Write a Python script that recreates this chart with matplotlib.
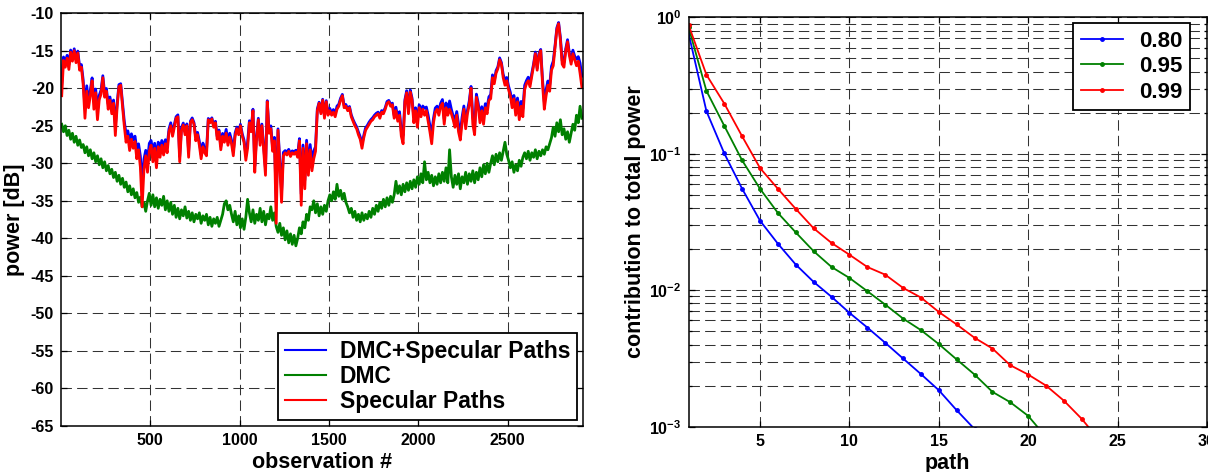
import numpy as np
import matplotlib
matplotlib.use("Agg")
import matplotlib.pyplot as plt
from matplotlib.ticker import FixedLocator, LogLocator, NullFormatter

plt.rcParams['font.family'] = ['Liberation Sans', 'DejaVu Sans']
plt.rcParams['font.weight'] = 'bold'
plt.rcParams['axes.unicode_minus'] = False
plt.rcParams['mathtext.fontset'] = 'custom'
plt.rcParams['mathtext.rm'] = 'Liberation Sans:bold'
plt.rcParams['mathtext.bf'] = 'Liberation Sans:bold'

# ---- left panel: power per observation (one value every 10 observations) ----
OBS_START = 5
OBS_STEP = 10

specular_db = [
    -21.0, -16.3, -17.2, -16.0, -17.5, -15.2, -16.4, -15.0, -16.6, -15.3, -17.6, -17.2, -19.5, -24.0, -20.4, -22.6, -21.0, -19.0, -22.8, -20.6,
    -24.2, -21.5, -20.8, -18.6, -21.2, -20.4, -22.8, -21.6, -23.4, -22.0, -26.3, -22.5, -19.8, -19.6, -22.4, -25.0, -27.2, -26.4, -28.3, -26.8,
    -28.0, -27.1, -29.4, -28.2, -30.5, -35.8, -30.8, -29.0, -31.2, -28.4, -27.6, -29.8, -28.0, -30.6, -27.8, -29.2, -27.6, -28.9, -27.4, -28.6,
    -25.8, -25.0, -26.4, -25.2, -24.0, -23.8, -29.8, -25.6, -24.9, -26.2, -25.0, -29.2, -24.6, -24.2, -24.8, -27.0, -26.2, -27.6, -29.4, -27.8,
    -28.6, -29.0, -24.2, -24.6, -24.1, -25.2, -24.6, -26.8, -25.8, -28.2, -26.4, -27.2, -26.0, -27.6, -26.5, -27.4, -29.0, -26.4, -25.4, -26.2,
    -25.0, -26.4, -27.2, -29.6, -28.0, -24.6, -25.8, -23.0, -31.2, -26.8, -24.2, -27.6, -25.0, -28.4, -31.6, -21.8, -26.0, -25.4, -28.4, -27.0,
    -38.0, -25.6, -30.4, -35.2, -29.0, -28.6, -28.9, -28.4, -29.1, -28.6, -28.8, -28.5, -29.2, -27.0, -35.6, -28.0, -33.4, -27.4, -31.6, -28.2,
    -31.0, -29.4, -28.4, -23.0, -22.0, -23.4, -21.6, -24.0, -21.8, -23.6, -23.0, -23.6, -23.2, -23.8, -22.8, -22.4, -21.6, -21.0, -22.6, -22.4,
    -23.0, -22.6, -23.8, -24.4, -25.0, -25.4, -26.2, -26.8, -28.0, -26.6, -25.6, -25.2, -24.8, -24.4, -24.2, -23.8, -23.6, -23.4, -24.0, -23.2,
    -23.4, -22.8, -22.0, -21.8, -22.4, -22.2, -24.0, -23.0, -24.4, -23.6, -26.4, -27.4, -21.8, -20.6, -23.4, -20.5, -21.6, -24.6, -23.0, -25.2,
    -22.6, -23.8, -22.8, -23.6, -23.0, -24.4, -25.8, -27.4, -24.6, -23.2, -22.8, -23.6, -22.4, -22.0, -24.8, -22.6, -23.6, -22.8, -23.4, -24.2,
    -25.2, -23.6, -25.8, -26.9, -24.6, -22.8, -25.4, -23.4, -22.2, -20.0, -24.8, -26.2, -21.2, -22.4, -24.6, -23.0, -24.8, -22.6, -23.4, -21.6,
    -21.4, -18.6, -19.4, -18.0, -17.4, -16.2, -16.8, -18.6, -19.6, -19.0, -20.2, -21.0, -22.6, -21.4, -23.6, -21.8, -24.2, -22.4, -23.8, -20.2,
    -19.4, -19.0, -19.8, -18.4, -17.0, -15.4, -17.6, -15.6, -15.0, -19.4, -22.8, -21.0, -19.6, -20.4, -17.6, -17.0, -14.6, -12.2, -11.4, -13.6,
    -16.8, -17.2, -15.0, -13.8, -15.6, -16.8, -15.4, -16.2, -17.0, -16.4, -18.0, -19.8,
]

dmc_db = [
    -24.8, -25.8, -25.0, -26.3, -25.6, -26.8, -26.0, -27.2, -26.4, -27.6, -26.9, -27.9, -27.5, -28.6, -27.8, -29.0, -28.2, -29.4, -28.6, -29.8,
    -29.0, -30.2, -29.4, -30.6, -29.8, -31.0, -30.3, -31.4, -30.8, -31.9, -31.2, -32.4, -31.6, -32.8, -32.0, -33.2, -32.5, -33.8, -33.0, -34.2,
    -33.4, -34.6, -33.9, -35.2, -34.5, -35.8, -35.2, -36.4, -35.0, -34.0, -35.6, -34.2, -35.8, -34.6, -36.0, -34.8, -35.6, -34.4, -36.2, -35.0,
    -36.4, -35.2, -36.8, -35.6, -37.2, -36.0, -37.4, -36.2, -37.0, -35.8, -37.3, -36.4, -37.6, -36.6, -37.8, -36.8, -37.4, -36.6, -38.0, -37.0,
    -37.6, -36.8, -38.2, -37.2, -38.4, -37.4, -38.0, -37.2, -38.4, -37.6, -36.8, -35.4, -35.0, -36.2, -35.6, -36.8, -37.8, -36.4, -38.2, -37.0,
    -38.6, -37.4, -38.8, -37.2, -34.8, -36.6, -37.8, -36.2, -38.0, -36.8, -37.6, -36.0, -37.8, -36.4, -38.2, -36.8, -37.4, -35.8, -37.6, -36.6,
    -38.4, -39.2, -38.0, -39.6, -38.6, -40.2, -39.0, -40.6, -39.4, -40.8, -39.6, -41.0, -40.0, -38.6, -39.4, -37.8, -38.6, -36.8, -37.6, -35.8,
    -36.2, -35.0, -36.6, -35.4, -37.0, -35.8, -36.8, -35.6, -36.4, -35.0, -34.2, -35.0, -33.8, -34.8, -32.8, -34.4, -33.6, -34.8, -34.0, -35.2,
    -35.8, -36.6, -36.0, -37.2, -36.4, -37.6, -36.8, -37.8, -36.6, -37.6, -36.8, -37.4, -36.4, -37.2, -36.0, -36.8, -35.6, -36.4, -35.2, -36.0,
    -34.8, -35.8, -34.6, -35.6, -34.4, -35.2, -34.2, -32.4, -34.0, -33.0, -34.2, -32.8, -33.8, -32.6, -33.6, -32.4, -33.4, -32.2, -33.2, -31.8,
    -32.8, -31.4, -32.6, -29.8, -32.2, -31.2, -32.6, -31.6, -33.0, -31.8, -32.8, -31.4, -32.6, -31.2, -32.4, -30.6, -32.6, -28.2, -31.8, -33.2,
    -31.6, -32.8, -31.4, -33.4, -31.8, -32.6, -31.2, -32.8, -31.4, -32.4, -31.0, -32.6, -31.2, -32.2, -30.6, -31.8, -30.2, -31.4, -30.0, -31.2,
    -30.0, -29.0, -30.2, -28.8, -29.8, -28.6, -29.6, -28.4, -27.2, -28.8, -29.6, -30.6, -29.8, -31.2, -30.2, -31.0, -29.6, -30.4, -29.2, -28.6,
    -29.4, -28.4, -29.6, -28.6, -29.2, -28.2, -29.4, -28.4, -29.0, -28.2, -28.8, -27.8, -28.2, -27.4, -26.6, -25.2, -26.4, -24.6, -25.8, -24.2,
    -26.2, -25.4, -26.8, -25.8, -27.2, -26.0, -24.8, -25.6, -23.6, -24.6, -22.4, -24.0,
]

power_yticks = [-65, -60, -55, -50, -45, -40, -35, -30, -25, -20, -15, -10]
obs_xticks = [500, 1000, 1500, 2000, 2500]

# ---- right panel: contribution of each path to the total power ----
paths_080 = [0.762, 0.205, 0.1005, 0.0553, 0.0323, 0.0219, 0.0154, 0.0115, 0.00894, 0.00683,
             0.00533, 0.00412, 0.00316, 0.00243, 0.00185, 0.00132, 0.00096]
paths_095 = [0.844, 0.289, 0.160, 0.0893, 0.0553, 0.0368, 0.0265, 0.0193, 0.0148, 0.0123,
             0.00984, 0.00785, 0.00620, 0.00510, 0.00403, 0.00311, 0.00241, 0.00180, 0.00151, 0.00120,
             0.00084]
paths_099 = [0.879, 0.379, 0.233, 0.134, 0.0785, 0.0553, 0.0394, 0.0284, 0.0222, 0.0182,
             0.0148, 0.0130, 0.0104, 0.00884, 0.00693, 0.00561, 0.00448, 0.00374, 0.00282, 0.00241,
             0.00200, 0.00155, 0.00114, 0.00079]
path_xticks = [5, 10, 15, 20, 25, 30]

GRID = dict(color='0.2', linestyle=(0, (10, 5)), linewidth=0.75)
BLUE = (0, 0, 1)
GREEN = (0, 0.5, 0)
RED = (1, 0, 0)


def style_axes(ax):
    ax.tick_params(which='both', direction='in', top=True, right=True,
                   labelsize=11.5, width=0.9, pad=5)
    ax.tick_params(which='major', length=4)
    ax.tick_params(which='minor', length=2)
    for s in ax.spines.values():
        s.set_linewidth(1.1)


def main():
    fig = plt.figure(figsize=(12.08, 4.72), dpi=100)

    # left panel
    ax = fig.add_axes([0.0505, 0.0975, 0.4319, 0.8746])
    spec = np.array(specular_db)
    dmc = np.array(dmc_db)
    obs = OBS_START + OBS_STEP * np.arange(len(spec))
    # DMC + specular = sum of the two powers
    total = 10 * np.log10(10 ** (spec / 10) + 10 ** (dmc / 10))

    ax.plot(obs, total, color=BLUE, lw=2.0, label='DMC+Specular Paths')
    ax.plot(obs, dmc, color=GREEN, lw=2.0, label='DMC')
    ax.plot(obs, spec, color=RED, lw=2.0, label='Specular Paths')

    ax.set_xlim(1, 2920)
    ax.set_ylim(-65, -10)
    ax.set_xticks(obs_xticks)
    ax.set_yticks(power_yticks)
    ax.grid(True, **GRID)
    ax.set_axisbelow(True)
    style_axes(ax)
    ax.set_xlabel('observation #', fontsize=15.5, fontweight='bold', labelpad=3)
    ax.set_ylabel('power [dB]', fontsize=15.5, fontweight='bold', labelpad=4)
    leg = ax.legend(loc='lower right', bbox_to_anchor=(0.989, 0.0145), borderaxespad=0,
                    fontsize=16.5, frameon=True, fancybox=False, framealpha=1,
                    edgecolor='black', handlelength=1.8, handletextpad=0.6,
                    labelspacing=0.1, borderpad=0.3)
    leg.get_frame().set_linewidth(1.3)
    for ln in leg.get_lines():
        ln.set_linewidth(1.5)

    # right panel
    ax2 = fig.add_axes([0.570, 0.0960, 0.4291, 0.8674])
    ax2.set_yscale('log')
    for vals, col, lab in [(paths_080, BLUE, '0.80'), (paths_095, GREEN, '0.95'),
                           (paths_099, RED, '0.99')]:
        p = np.arange(1, len(vals) + 1)
        ax2.plot(p, vals, color=col, lw=1.3, marker='.', ms=5, label=lab)

    ax2.set_xlim(1, 30)
    ax2.set_ylim(1e-3, 1)
    ax2.set_xticks(path_xticks)
    ax2.yaxis.set_major_locator(FixedLocator([1e-3, 1e-2, 1e-1, 1]))
    ax2.set_yticklabels([r'$\mathbf{10^{-3}}$', r'$\mathbf{10^{-2}}$',
                         r'$\mathbf{10^{-1}}$', r'$\mathbf{10^{0}}$'])
    ax2.yaxis.set_minor_locator(LogLocator(base=10, subs=np.arange(2, 10)))
    ax2.yaxis.set_minor_formatter(NullFormatter())
    ax2.grid(True, which='major', **GRID)
    ax2.grid(True, which='minor', axis='y', **GRID)
    ax2.set_axisbelow(True)
    style_axes(ax2)
    ax2.set_xlabel('path', fontsize=15.5, fontweight='bold', labelpad=3)
    ax2.set_ylabel('contribution to total power', fontsize=15.5, fontweight='bold', labelpad=2)
    leg2 = ax2.legend(loc='upper right', bbox_to_anchor=(0.967, 0.986), borderaxespad=0,
                      fontsize=16, frameon=True, fancybox=False, framealpha=1,
                      edgecolor='black', handlelength=1.9, handletextpad=0.7,
                      labelspacing=0.2, borderpad=0.35)
    leg2.get_frame().set_linewidth(1.3)

    fig.savefig('out.png', dpi=100)


if __name__ == '__main__':
    main()
